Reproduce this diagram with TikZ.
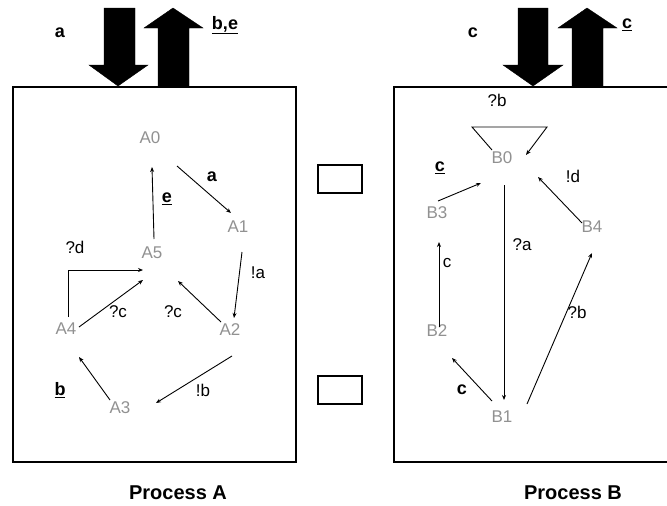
\documentclass[tikz,border=0pt]{standalone}
\usepackage{fontspec}
\setmainfont{Liberation Sans}
\usetikzlibrary{arrows.meta}
\definecolor{stgray}{RGB}{145,145,145}
\tikzset{
  state/.style={text=stgray, font=\fontsize{17}{17}\selectfont, inner sep=0pt},
  lbl/.style={font=\fontsize{17}{17}\selectfont, inner sep=0pt},
  blbl/.style={font=\fontsize{18}{18}\selectfont\bfseries, inner sep=0pt},
  arr/.style={line width=0.9pt, -{Stealth[length=5pt,width=4pt]}},
  proc/.style={line width=2.6pt},
  bigarrow/.style={fill=black, draw=black},
  smallbox/.style={draw, line width=1.4pt, minimum width=44pt, minimum height=28pt, inner sep=0pt},
  title/.style={font=\fontsize{20}{20}\selectfont\bfseries, inner sep=0pt}
}
\begin{document}
\begin{tikzpicture}[x=1pt,y=-1pt]
\useasboundingbox (0,0) rectangle (667,506);
% process boxes
\draw[proc] (13,87) rectangle (296,462);
\draw[proc] (672,87) -- (394,87) -- (394,462) -- (672,462);
% big arrows left
\path[bigarrow] (104,8) -- (135,8) -- (135,65) -- (148,65) -- (118,86) -- (89,65) -- (104,65) -- cycle;
\path[bigarrow] (158,87) -- (189,87) -- (189,28) -- (203,28) -- (173,8) -- (144,28) -- (158,28) -- cycle;
% big arrows right
\path[bigarrow] (518,8) -- (548,8) -- (548,65) -- (563,65) -- (533,86) -- (503,65) -- (518,65) -- cycle;
\path[bigarrow] (572,87) -- (603,87) -- (603,28) -- (617,28) -- (587,8) -- (558,28) -- (572,28) -- cycle;
\node[blbl] (ta) at (60,33) {a};
\node[blbl] (tbe) at (225,25) {\underline{b,e}};
\node[blbl] (tc) at (473,33) {c};
\node[blbl] (tcu) at (627,25) {\underline{c}};
% small rectangles
\node[smallbox] (r1) at (340,179) {};
\node[smallbox] (r2) at (340,390) {};
% states A
\node[state] (A0) at (150,138) {A0};
\node[state] (A1) at (238,227) {A1};
\node[state] (A5) at (152,253) {A5};
\node[state] (A4) at (66,329) {A4};
\node[state] (A2) at (230,330) {A2};
\node[state] (A3) at (120,408) {A3};
% edges A
\draw[arr] ([shift={(27,28)}]A0.center) -- ([shift={(-7,-14)}]A1.center);
\draw[arr] ([shift={(2,-14)}]A5.center) -- ([shift={(2,29)}]A0.center);
\draw[arr] ([shift={(4,25)}]A1.center) -- ([shift={(4,-12)}]A2.center);
\draw[arr] ([shift={(-9,-8)}]A2.center) -- ([shift={(26,28)}]A5.center);
\draw[arr] ([shift={(13,-2)}]A4.center) -- ([shift={(-9,27)}]A5.center);
\draw[arr] ([shift={(2,-12)}]A4.center) |- ([shift={(-9,17)}]A5.center);
\draw[arr] ([shift={(2,26)}]A2.center) -- ([shift={(36,-5)}]A3.center);
\draw[arr] ([shift={(-10,-8)}]A3.center) -- ([shift={(13,28)}]A4.center);
% labels A
\node[blbl] (la) at (212,177) {a};
\node[blbl] (le) at (167,199) {\underline{e}};
\node[lbl] (lna) at (258,273) {!a};
\node[lbl] (lqc1) at (173,312) {?c};
\node[lbl] (lqc2) at (118,312) {?c};
\node[lbl] (lqd) at (75,247) {?d};
\node[lbl] (lnb) at (203,390) {!b};
\node[blbl] (lb) at (60,390) {\underline{b}};
% states B
\node[state] (B0) at (502,158) {B0};
\node[state] (B3) at (437,213) {B3};
\node[state] (B4) at (592,227) {B4};
\node[state] (B2) at (437,331) {B2};
\node[state] (B1) at (502,417) {B1};
% edges B
\coordinate (lp1) at (472,127);
\coordinate (lp2) at (547,127);
\draw[arr] ([shift={(-10,-8)}]B0.center) -- (lp1) -- (lp2) -- ([shift={(24,-3)}]B0.center);
\draw[arr] ([shift={(1,-12)}]B3.center) -- ([shift={(-21,25)}]B0.center);
\draw[arr] ([shift={(-10,-4)}]B4.center) -- ([shift={(36,19)}]B0.center);
\draw[arr] ([shift={(2,27)}]B0.center) -- ([shift={(2,-17)}]B1.center);
\draw[arr] ([shift={(2,-4)}]B2.center) -- ([shift={(2,29)}]B3.center);
\draw[arr] ([shift={(-10,-16)}]B1.center) -- ([shift={(15,27)}]B2.center);
\draw[arr] ([shift={(25,-13)}]B1.center) -- ([shift={(0,26)}]B4.center);
% labels B
\node[lbl] (lqb1) at (497,100) {?b};
\node[blbl] (lcu) at (440,168) {\underline{c}};
\node[lbl] (lnd) at (573,176) {!d};
\node[lbl] (lqa) at (522,245) {?a};
\node[lbl] (lc) at (447,263) {c};
\node[blbl] (lcb) at (462,390) {c};
\node[lbl] (lqb2) at (577,312) {?b};
% titles
\node[title] (pA) at (178,493) {Process A};
\node[title] (pB) at (573,493) {Process B};
\end{tikzpicture}
\end{document}
